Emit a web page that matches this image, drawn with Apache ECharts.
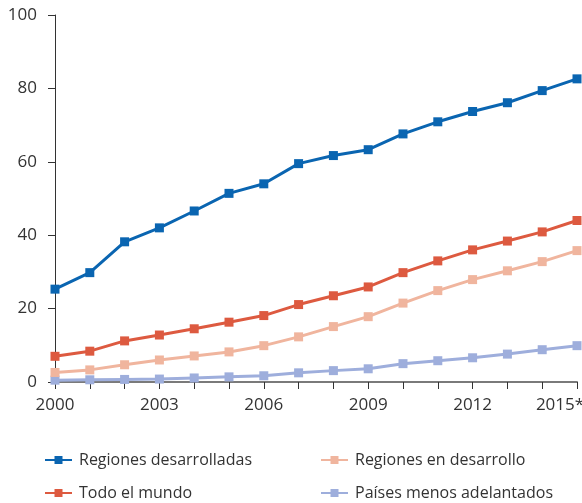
<!DOCTYPE html>
<html>
<head>
<meta charset="utf-8">
<script src="https://cdn.jsdelivr.net/npm/echarts@6/dist/echarts.min.js"></script>
<style>
html,body{margin:0;padding:0;background:#fff;}
#chart{width:582px;height:503px;}
</style>
</head>
<body>
<div id="chart"></div>
<script>
var years = ['2000','2001','2002','2003','2004','2005','2006','2007','2008','2009','2010','2011','2012','2013','2014','2015*'];
var yTicks = [0, 20, 40, 60, 80, 100];
var seriesNames = ['Regiones desarrolladas', 'Todo el mundo', 'Regiones en desarrollo', 'Países menos adelantados'];
var desarrolladas = [25.3, 29.8, 38.2, 42.0, 46.6, 51.4, 54.0, 59.5, 61.7, 63.3, 67.6, 70.9, 73.7, 76.1, 79.4, 82.6];
var mundo = [7.0, 8.4, 11.2, 12.8, 14.5, 16.3, 18.1, 21.1, 23.5, 25.9, 29.8, 33.0, 36.0, 38.4, 40.9, 44.0];
var enDesarrollo = [2.6, 3.3, 4.7, 6.0, 7.1, 8.2, 9.9, 12.3, 15.1, 17.8, 21.5, 24.9, 27.9, 30.3, 32.8, 35.8];
var menosAdelantados = [0.5, 0.6, 0.7, 0.8, 1.1, 1.4, 1.7, 2.5, 3.1, 3.6, 5.0, 5.8, 6.6, 7.6, 8.8, 9.9];
var colors = ['#0a65b1', '#dd5a40', '#f0b59e', '#9eaedc'];

var FONT = 'Open Sans';
var chart = echarts.init(document.getElementById('chart'), null, {renderer: 'canvas'});

var catData = years.map(function (y, i) {
  if (i === years.length - 1) {
    return {value: y, textStyle: {padding: [0, 34, 0, 0]}};
  }
  return y;
});

function mk(name, data, color, z) {
  return {
    name: name,
    type: 'line',
    data: data,
    symbol: 'rect',
    symbolSize: 9,
    showSymbol: true,
    z: z,
    lineStyle: {color: color, width: 3},
    itemStyle: {color: color},
    emphasis: {disabled: true},
    animation: false
  };
}

function lg(name, left, top) {
  return {
    orient: 'horizontal',
    left: left,
    top: top,
    itemWidth: 27,
    itemHeight: 10,
    padding: 0,
    data: [name],
    textStyle: {color: '#333', fontSize: 16, fontFamily: FONT, padding: [0, 0, 0, 2]}
  };
}

chart.setOption({
  backgroundColor: '#ffffff',
  animation: false,
  color: colors,
  grid: {left: 55, right: 5, top: 15, bottom: 121, containLabel: false, outerBoundsMode: 'none'},
  xAxis: {
    type: 'category',
    data: catData,
    boundaryGap: false,
    axisLine: {show: true, lineStyle: {color: '#7a7a7a', width: 2}},
    axisTick: {show: true, interval: 0, length: 7, lineStyle: {color: '#333', width: 1}},
    axisLabel: {interval: 2, margin: 15, color: '#333', fontSize: 17, fontFamily: FONT},
    splitLine: {show: false}
  },
  yAxis: {
    type: 'value',
    min: yTicks[0],
    max: yTicks[yTicks.length - 1],
    interval: 20,
    axisLine: {show: true, lineStyle: {color: '#333', width: 1}},
    axisTick: {show: true, length: 7, lineStyle: {color: '#333', width: 1}},
    axisLabel: {margin: 18, color: '#333', fontSize: 17, fontFamily: FONT},
    splitLine: {show: false}
  },
  legend: [
    lg(seriesNames[0], 44, 452),
    lg(seriesNames[1], 44, 485),
    lg(seriesNames[2], 320, 452),
    lg(seriesNames[3], 320, 485)
  ],
  series: [
    mk(seriesNames[3], menosAdelantados, colors[3], 2),
    mk(seriesNames[2], enDesarrollo, colors[2], 3),
    mk(seriesNames[1], mundo, colors[1], 4),
    mk(seriesNames[0], desarrolladas, colors[0], 5)
  ]
});
</script>
</body>
</html>
